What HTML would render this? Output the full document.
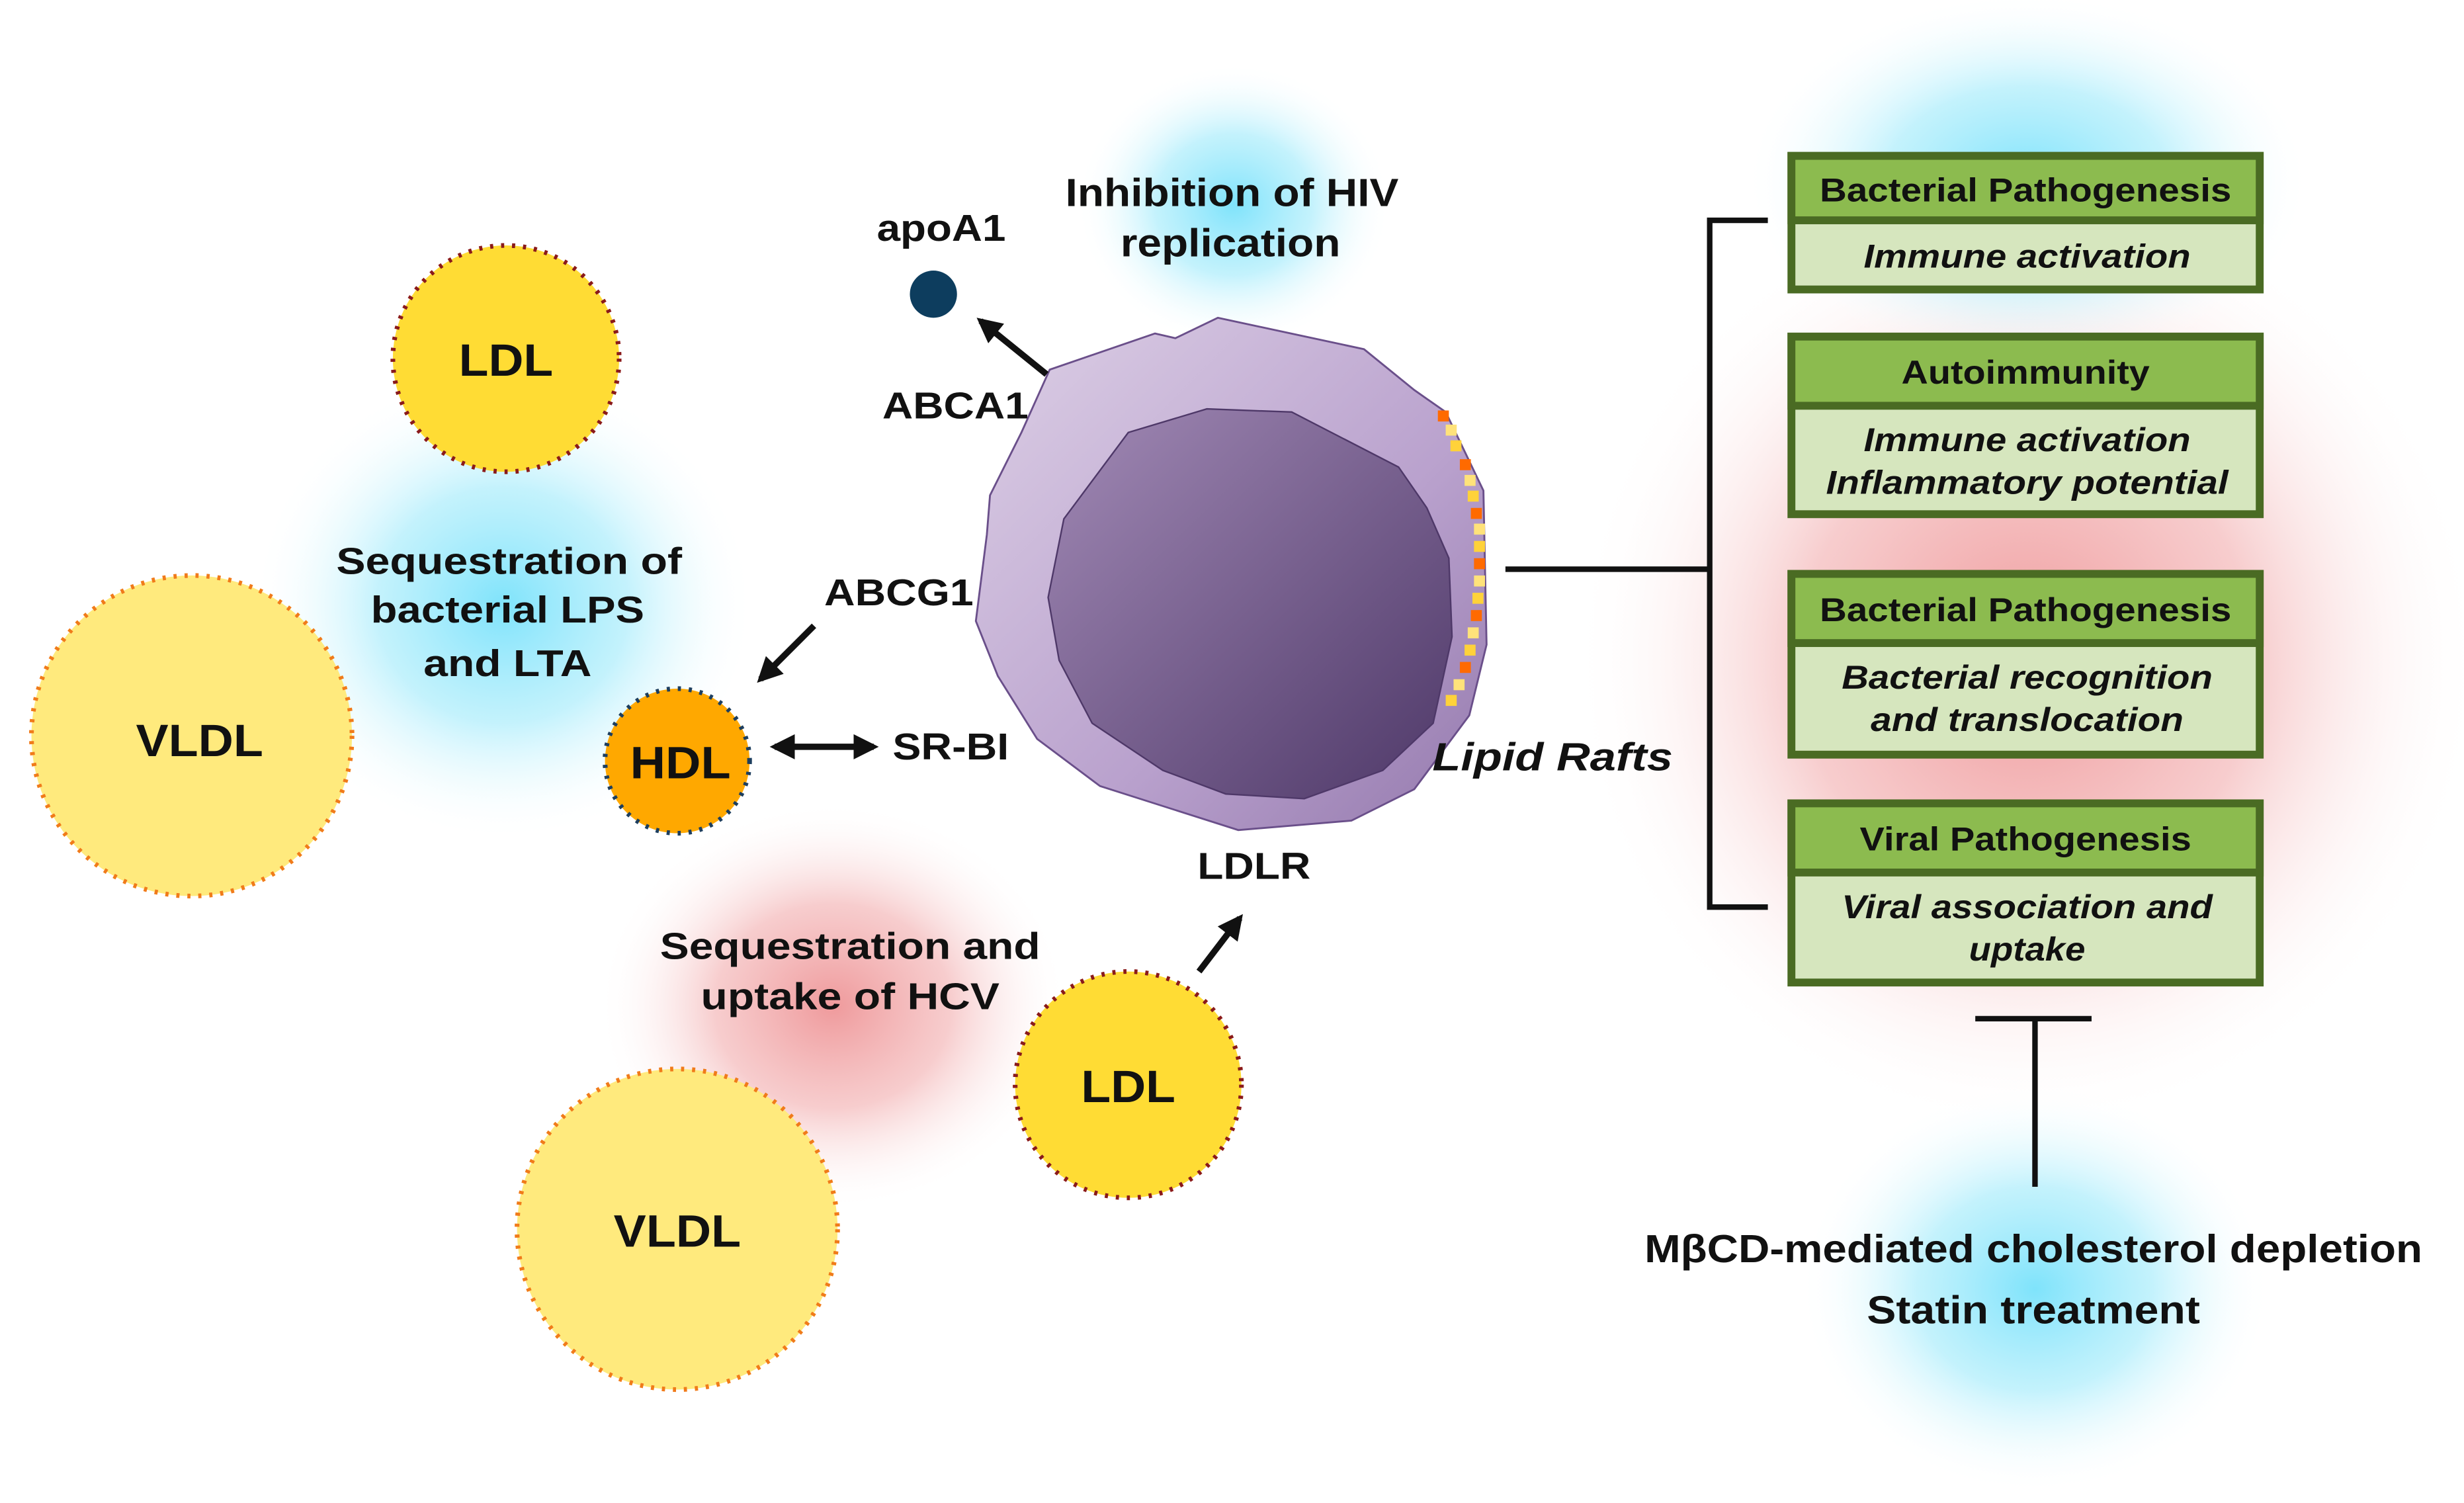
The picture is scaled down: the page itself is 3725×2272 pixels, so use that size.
<!DOCTYPE html>
<html><head><meta charset="utf-8"><style>
html,body{margin:0;padding:0;background:#fff}
svg{display:block}
text{font-family:"Liberation Sans",Arial,sans-serif;font-weight:bold;fill:#111}
</style></head><body>
<svg width="3725" height="2272" viewBox="0 0 1568 956" xmlns="http://www.w3.org/2000/svg">
<defs>
<radialGradient id="blue"><stop offset="0" stop-color="#7fe3fb"/><stop offset="0.5" stop-color="#b5effc" stop-opacity="0.8"/><stop offset="1" stop-color="#fff" stop-opacity="0"/></radialGradient>
<radialGradient id="red"><stop offset="0" stop-color="#ef9a9c"/><stop offset="0.5" stop-color="#f5c0c1" stop-opacity="0.8"/><stop offset="1" stop-color="#fff" stop-opacity="0"/></radialGradient>
<linearGradient id="cell" x1="0" y1="0" x2="1" y2="1"><stop offset="0" stop-color="#ddd0e6"/><stop offset="0.6" stop-color="#b9a1cd"/><stop offset="1" stop-color="#9479ad"/></linearGradient>
<linearGradient id="nuc" x1="0" y1="0" x2="1" y2="1"><stop offset="0" stop-color="#a28ab6"/><stop offset="1" stop-color="#4e3868"/></linearGradient>
<marker id="ah" viewBox="0 0 10 10" refX="8" refY="5" markerWidth="4" markerHeight="4" orient="auto-start-reverse"><path d="M0,0 L10,5 L0,10 z" fill="#111"/></marker>
</defs>
<ellipse cx="1290" cy="420" rx="290" ry="300" fill="url(#red)"/>
<ellipse cx="1290" cy="115" rx="180" ry="120" fill="url(#blue)"/>
<ellipse cx="1295" cy="820" rx="150" ry="130" fill="url(#blue)"/>
<ellipse cx="785" cy="130" rx="100" ry="90" fill="url(#blue)"/>
<ellipse cx="320" cy="385" rx="160" ry="150" fill="url(#blue)"/>
<ellipse cx="530" cy="640" rx="150" ry="130" fill="url(#red)"/>

<!-- cell -->
<polygon points="668,235 735,212 748,215 775,202 868,222 900,248 920,262 944,312 946,410 935,455 900,502 860,522 788,528 700,500 660,470 635,430 621,395 628,340 630,315 650,275" fill="url(#cell)" stroke="#6a4f8a" stroke-width="1.2"/>
<polygon points="718,275 768,260 822,262 890,297 908,323 922,355 924,405 912,460 880,490 830,508 780,505 740,490 695,460 674,420 667,380 677,330" fill="url(#nuc)" stroke="#4e3868" stroke-width="1"/>
<g>
<rect x="915" y="261" width="7" height="7" fill="#ff6a00"/><rect x="920" y="270" width="7" height="7" fill="#ffe27a"/><rect x="923" y="280" width="7" height="7" fill="#ffd23a"/>
<rect x="929" y="292" width="7" height="7" fill="#ff6a00"/><rect x="932" y="302" width="7" height="7" fill="#ffe27a"/><rect x="934" y="312" width="7" height="7" fill="#ffd23a"/>
<rect x="936" y="323" width="7" height="7" fill="#ff6a00"/><rect x="938" y="333" width="7" height="7" fill="#ffe27a"/><rect x="938" y="344" width="7" height="7" fill="#ffd23a"/>
<rect x="938" y="355" width="7" height="7" fill="#ff6a00"/><rect x="938" y="366" width="7" height="7" fill="#ffe27a"/><rect x="937" y="377" width="7" height="7" fill="#ffd23a"/>
<rect x="936" y="388" width="7" height="7" fill="#ff6a00"/><rect x="934" y="399" width="7" height="7" fill="#ffe27a"/><rect x="932" y="410" width="7" height="7" fill="#ffd23a"/>
<rect x="929" y="421" width="7" height="7" fill="#ff6a00"/><rect x="925" y="432" width="7" height="7" fill="#ffe27a"/><rect x="920" y="442" width="7" height="7" fill="#ffd23a"/>
</g>

<!-- circles -->
<circle cx="322" cy="228" r="72" fill="#ffdc34" stroke="#8a1a1a" stroke-width="3" stroke-dasharray="2,5"/>
<circle cx="122" cy="468" r="102" fill="#ffea7d" stroke="#f07b1a" stroke-width="3" stroke-dasharray="2,5"/>
<circle cx="431" cy="782" r="102" fill="#ffea7d" stroke="#f07b1a" stroke-width="3" stroke-dasharray="2,5"/>
<circle cx="718" cy="690" r="72" fill="#ffdc34" stroke="#8a1a1a" stroke-width="3" stroke-dasharray="2,5"/>
<circle cx="431" cy="484" r="46" fill="#ffa800" stroke="#1d3e5e" stroke-width="3" stroke-dasharray="2,5"/>
<circle cx="594" cy="187" r="15" fill="#0d3d5e"/>

<g lengthAdjust="spacingAndGlyphs">
<text x="322" y="239" font-size="29" text-anchor="middle" textLength="60" lengthAdjust="spacingAndGlyphs">LDL</text>
<text x="127" y="481" font-size="29" text-anchor="middle" textLength="81" lengthAdjust="spacingAndGlyphs">VLDL</text>
<text x="431" y="793" font-size="29" text-anchor="middle" textLength="81" lengthAdjust="spacingAndGlyphs">VLDL</text>
<text x="718" y="701" font-size="29" text-anchor="middle" textLength="60" lengthAdjust="spacingAndGlyphs">LDL</text>
<text x="433" y="495" font-size="29" text-anchor="middle" textLength="64" lengthAdjust="spacingAndGlyphs">HDL</text>
</g>

<!-- arrows -->
<g stroke="#111" stroke-width="4" fill="none">
<line x1="666" y1="238" x2="624" y2="204" marker-end="url(#ah)"/>
<line x1="518" y1="398" x2="484" y2="432" marker-end="url(#ah)"/>
<line x1="493" y1="475" x2="556" y2="475" marker-start="url(#ah)" marker-end="url(#ah)"/>
<line x1="763" y1="618" x2="789" y2="584" marker-end="url(#ah)"/>
</g>

<text x="599" y="153" font-size="24" text-anchor="middle" textLength="82" lengthAdjust="spacingAndGlyphs">apoA1</text>
<text x="784" y="131" font-size="25" text-anchor="middle" textLength="212" lengthAdjust="spacingAndGlyphs">Inhibition of HIV</text>
<text x="783" y="163" font-size="25" text-anchor="middle" textLength="140" lengthAdjust="spacingAndGlyphs">replication</text>
<text x="608" y="266" font-size="24" text-anchor="middle" textLength="93" lengthAdjust="spacingAndGlyphs">ABCA1</text>
<text x="572" y="385" font-size="24" text-anchor="middle" textLength="95" lengthAdjust="spacingAndGlyphs">ABCG1</text>
<text x="605" y="483" font-size="24" text-anchor="middle" textLength="74" lengthAdjust="spacingAndGlyphs">SR-BI</text>
<text x="798" y="559" font-size="24" text-anchor="middle" textLength="72" lengthAdjust="spacingAndGlyphs">LDLR</text>
<text x="988" y="490" font-size="25" font-style="italic" text-anchor="middle" textLength="153" lengthAdjust="spacingAndGlyphs">Lipid Rafts</text>
<text x="324" y="365" font-size="24" text-anchor="middle" textLength="220" lengthAdjust="spacingAndGlyphs">Sequestration of</text>
<text x="323" y="396" font-size="24" text-anchor="middle" textLength="174" lengthAdjust="spacingAndGlyphs">bacterial LPS</text>
<text x="323" y="430" font-size="24" text-anchor="middle" textLength="107" lengthAdjust="spacingAndGlyphs">and LTA</text>
<text x="541" y="610" font-size="24" text-anchor="middle" textLength="242" lengthAdjust="spacingAndGlyphs">Sequestration and</text>
<text x="541" y="642" font-size="24" text-anchor="middle" textLength="190" lengthAdjust="spacingAndGlyphs">uptake of HCV</text>

<!-- bracket -->
<g stroke="#111" stroke-width="3.5" fill="none">
<line x1="958" y1="362" x2="1088" y2="362"/>
<polyline points="1125,140 1088,140 1088,577 1125,577"/>
<line x1="1295" y1="648" x2="1295" y2="755"/>
<line x1="1257" y1="648" x2="1331" y2="648"/>
</g>

<!-- boxes -->
<g stroke="#4a6b23" stroke-width="5">
<rect x="1140" y="99" width="298" height="85" fill="#d6e6be"/>
<rect x="1140" y="99" width="298" height="41" fill="#8cbb4f"/>
<rect x="1140" y="214" width="298" height="113" fill="#d6e6be"/>
<rect x="1140" y="214" width="298" height="44" fill="#8cbb4f"/>
<rect x="1140" y="365" width="298" height="115" fill="#d6e6be"/>
<rect x="1140" y="365" width="298" height="44" fill="#8cbb4f"/>
<rect x="1140" y="511" width="298" height="114" fill="#d6e6be"/>
<rect x="1140" y="511" width="298" height="44" fill="#8cbb4f"/>
</g>
<g font-size="21" text-anchor="middle">
<text x="1289" y="128" textLength="262" lengthAdjust="spacingAndGlyphs">Bacterial Pathogenesis</text>
<text x="1290" y="170" font-style="italic" textLength="208" lengthAdjust="spacingAndGlyphs">Immune activation</text>
<text x="1289" y="244" textLength="158" lengthAdjust="spacingAndGlyphs">Autoimmunity</text>
<text x="1290" y="287" font-style="italic" textLength="208" lengthAdjust="spacingAndGlyphs">Immune activation</text>
<text x="1290" y="314" font-style="italic" textLength="256" lengthAdjust="spacingAndGlyphs">Inflammatory potential</text>
<text x="1289" y="395" textLength="262" lengthAdjust="spacingAndGlyphs">Bacterial Pathogenesis</text>
<text x="1290" y="438" font-style="italic" textLength="236" lengthAdjust="spacingAndGlyphs">Bacterial recognition</text>
<text x="1290" y="465" font-style="italic" textLength="199" lengthAdjust="spacingAndGlyphs">and translocation</text>
<text x="1289" y="541" textLength="211" lengthAdjust="spacingAndGlyphs">Viral Pathogenesis</text>
<text x="1290" y="584" font-style="italic" textLength="236" lengthAdjust="spacingAndGlyphs">Viral association and</text>
<text x="1290" y="611" font-style="italic" textLength="74" lengthAdjust="spacingAndGlyphs">uptake</text>
</g>
<text x="1294" y="803" font-size="25" text-anchor="middle" textLength="495" lengthAdjust="spacingAndGlyphs">MβCD-mediated cholesterol depletion</text>
<text x="1294" y="842" font-size="25" text-anchor="middle" textLength="212" lengthAdjust="spacingAndGlyphs">Statin treatment</text>
</svg>
</body></html>
